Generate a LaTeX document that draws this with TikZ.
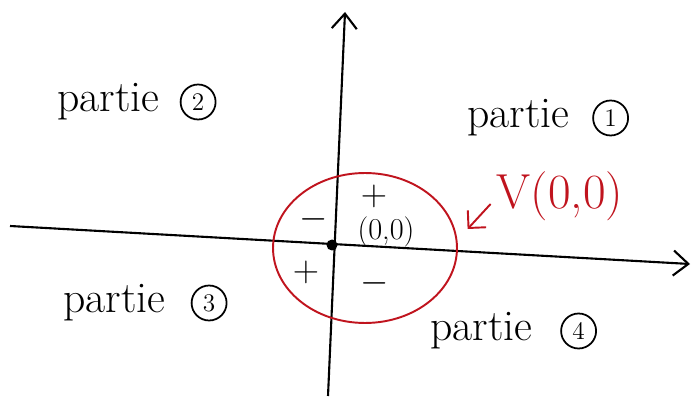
\documentclass[tikz,border=0pt]{standalone}
\usepackage{xcolor}
\usepackage{tikz}
\usetikzlibrary{arrows.meta, positioning, shapes.geometric}
\definecolor{penred}{HTML}{C0141E}

\begin{document}
\begin{tikzpicture}[
  x=0.02cm, y=-0.02cm,
  axis/.style={line width=1.2pt, -{Straight Barb[length=3mm, width=5mm]}},
  part/.style={font=\Huge, anchor=west, inner sep=0pt},
  num/.style={draw, circle, line width=1pt, minimum size=0.7cm, inner sep=0pt, font=\Large},
  sign/.style={font=\huge},
  hood/.style={draw=penred, line width=1.1pt, ellipse, minimum width=3.68cm, minimum height=3cm},
  redarr/.style={->, >={Straight Barb[length=2.5mm]}, line width=1.1pt, penred},
]
\useasboundingbox (0,0) rectangle (696,398);

% Axes
\coordinate (xl) at (10,226);
\coordinate (xr) at (690,264);
\coordinate (yb) at (328,396);
\coordinate (yt) at (345,12);
\draw[axis] (xl) -- (xr);
\draw[axis] (yb) -- (yt);
\fill (332,245) circle (0.11cm) coordinate (o);

% Neighbourhood
\node[hood] (nbhd) at (365,248) {};
\node[sign] (pp1) at (374,196) {$+$};
\node[font=\LARGE] (org) at (386,232) {(0,0)};
\node[sign] (mm1) at (314,219) {$-$};
\node[sign] (pp2) at (306,272) {$+$};
\node[sign] (mm2) at (375,283) {$-$};

% Label V(0,0)
\node[font=\fontsize{28}{32}\selectfont, text=penred] (vlab) at (560,196) {V(0,0)};
\draw[redarr] (vlab.west) ++(0,-0.16cm) coordinate (vs) -- ++(-0.46cm,-0.5cm) coordinate (ve);

% Quadrants
\node[part] (q2) at (57,102) {partie};
\node[num, right=0.4cm of q2] (n2) {2};
\node[part] (q1) at (467,118) {partie};
\node[num, right=0.45cm of q1] (n1) {1};
\node[part] (q3) at (63,303) {partie};
\node[num, right=0.5cm of q3] (n3) {3};
\node[part] (q4) at (430,331) {partie};
\node[num, right=0.55cm of q4] (n4) {4};

\end{tikzpicture}
\end{document}
